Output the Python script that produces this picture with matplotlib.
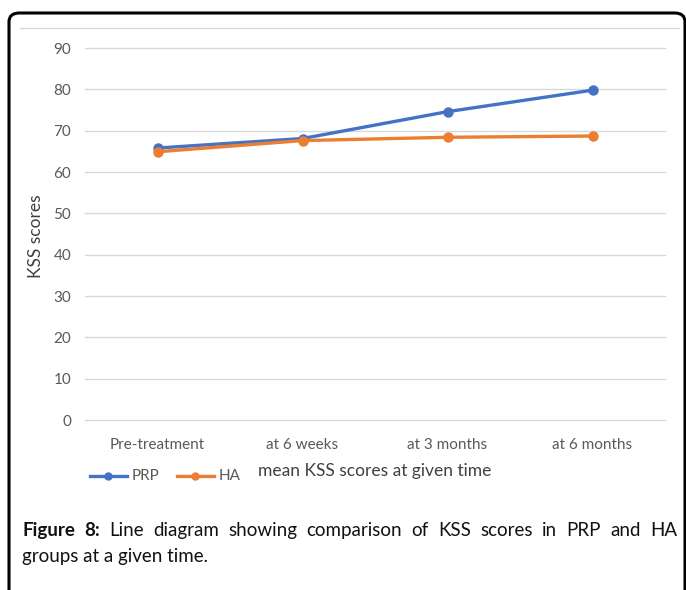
import matplotlib
matplotlib.use("Agg")
import matplotlib.pyplot as plt
from matplotlib.patches import FancyBboxPatch
from matplotlib.lines import Line2D

categories = ["Pre-treatment", "at 6 weeks", "at 3 months", "at 6 months"]
prp = [65.8, 68.1, 74.6, 79.8]
ha = [64.9, 67.6, 68.4, 68.7]
yticks = [0, 10, 20, 30, 40, 50, 60, 70, 80, 90]
series_names = ["PRP", "HA"]
x_title = "mean KSS scores at given time"
y_title = "KSS scores"
caption_bold = "Figure 8:"
caption_rest = "Line diagram showing comparison of KSS scores in PRP and HA"
caption_line2 = "groups at a given time."

W, H = 686, 590
fig = plt.figure(figsize=(W / 100, H / 100), dpi=100)
FONT = "Lato"
plt.rcParams["font.family"] = [FONT, "DejaVu Sans"]

def fx(px):
    return px / W

def fy(py):
    return 1 - py / H

# outer rounded border
border = FancyBboxPatch((fx(9), fy(600)), fx(676), (600 - 13) / H,
                        boxstyle="round,pad=0,rounding_size=0.015",
                        transform=fig.transFigure, fill=False,
                        edgecolor="black", linewidth=2.2, clip_on=False)
fig.patches.append(border)
# chart area top line
fig.add_artist(Line2D([fx(20), fx(679)], [fy(28), fy(28)], color="#d9d9d9",
                      lw=1.0, transform=fig.transFigure))

ax = fig.add_axes([fx(85), fy(420), fx(665) - fx(85), fy(48) - fy(420)])
x = list(range(len(categories)))
blue = "#4472C4"
orange = "#ED7D31"
ax.plot(x, prp, color=blue, lw=2.4, marker="o", ms=6.5, zorder=3, solid_capstyle="round")
ax.plot(x, ha, color=orange, lw=2.4, marker="o", ms=6.5, zorder=3, solid_capstyle="round")
ax.set_xlim(-0.5, len(categories) - 0.5)
ax.set_ylim(0, 90)
ax.set_yticks(yticks)
ax.set_xticks(x)
ax.set_xticklabels(categories)
ax.grid(axis="y", color="#d9d9d9", lw=1.0)
for gl in ax.get_ygridlines():
    gl.set_clip_on(False)
ax.set_axisbelow(True)
for s in ax.spines.values():
    s.set_visible(False)
ax.tick_params(axis="both", length=0, labelsize=11, labelcolor="#595959")
ax.tick_params(axis="y", pad=10)
ax.tick_params(axis="x", pad=13)
fig.text(fx(36), fy(236), y_title, rotation=90, ha="center", va="center",
         fontsize=12.5, color="#404040")

# legend + x title
ly = fy(476)
fig.add_artist(Line2D([fx(90), fx(127)], [ly, ly], color=blue, lw=2.4,
                      transform=fig.transFigure))
fig.add_artist(Line2D([fx(108)], [ly], color=blue, marker="o", ms=5,
                      transform=fig.transFigure))
fig.text(fx(132), ly, series_names[0], ha="left", va="center", fontsize=11, color="#595959")
fig.add_artist(Line2D([fx(177), fx(214)], [ly, ly], color=orange, lw=2.4,
                      transform=fig.transFigure))
fig.add_artist(Line2D([fx(195)], [ly], color=orange, marker="o", ms=5,
                      transform=fig.transFigure))
fig.text(fx(219), ly, series_names[1], ha="left", va="center", fontsize=11, color="#595959")
fig.text(fx(258), fy(471), x_title, ha="left", va="center", fontsize=12.5, color="#404040")

# caption with justified first line
fig.canvas.draw()
r = fig.canvas.get_renderer()
words = [(caption_bold.split()[0], "bold"), (caption_bold.split()[1], "bold")] + \
        [(w, "normal") for w in caption_rest.split()]
cy = fy(536)
CFS = 13.5
texts = []
total = 0
for w, weight in words:
    t = fig.text(0, cy, w, ha="left", va="baseline", fontsize=CFS, color="#111111",
                 fontweight=weight)
    wpx = t.get_window_extent(renderer=r).width
    texts.append((t, wpx))
    total += wpx
left, right = 22, 677
gap = (right - left - total) / (len(words) - 1)
pos = left
for t, wpx in texts:
    t.set_x(fx(pos))
    pos += wpx + gap
fig.text(fx(22), fy(562), caption_line2, ha="left", va="baseline", fontsize=CFS, color="#111111")

fig.savefig("out.png", dpi=100)
